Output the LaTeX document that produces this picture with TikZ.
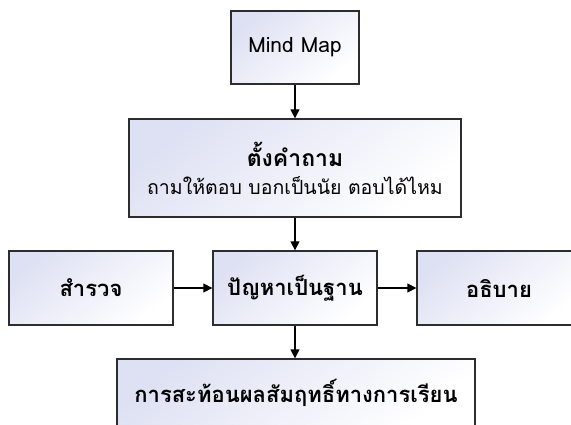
\documentclass[tikz,border=0pt]{standalone}
\usepackage{fontspec}
\setmainfont[Script=Thai]{Loma}
\usetikzlibrary{arrows.meta}
\definecolor{lav}{RGB}{222,225,243}
\definecolor{edge}{RGB}{45,45,45}
\tikzset{
  box/.style={draw=edge, line width=1.3pt, top color=lav, bottom color=white,
    shading angle=40, inner sep=0pt, align=center},
  conn/.style={line width=1.3pt, draw=black, -{Triangle[length=9pt,width=9pt]}},
  lbl/.style={font=\fontsize{22}{26}\selectfont\bfseries},
}
\begin{document}
\begin{tikzpicture}[x=1pt,y=-1pt]
\clip (0,0) rectangle (571,425);
\useasboundingbox (0,0) rectangle (571,425);
\node[box, minimum width=128pt, minimum height=73pt, font=\fontsize{21}{24}\selectfont] (mm) at (295,47.5) {Mind Map};
\node[box, minimum width=332pt, minimum height=98pt] (q) at (295,168)
  {{\fontsize{23}{26}\selectfont\bfseries ตั้งคำถาม}\\[9pt]{\fontsize{19.5}{22}\selectfont ถามให้ตอบ บอกเป็นนัย ตอบได้ไหม}};
\node[box, lbl, minimum width=164pt, minimum height=74pt] (s) at (91,288) {สำรวจ};
\node[box, lbl, minimum width=164pt, minimum height=74pt] (p) at (295,288) {ปัญหาเป็นฐาน};
\node[box, lbl, minimum width=164pt, minimum height=74pt] (e) at (499,288) {อธิบาย};
\node[box, lbl, minimum width=358pt, minimum height=68pt] (r) at (296,393) {การสะท้อนผลสัมฤทธิ์ทางการเรียน};
\draw[conn] (mm) -- (q);
\draw[conn] (q) -- (p);
\draw[conn] (s) -- (p);
\draw[conn] (p) -- (e);
\draw[conn] (p) -- (p|-r.north);
\end{tikzpicture}
\end{document}
